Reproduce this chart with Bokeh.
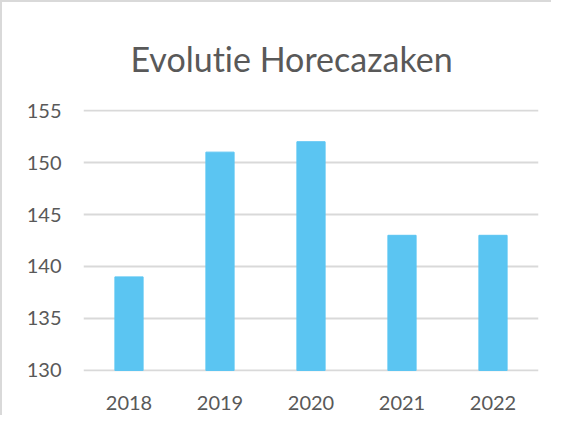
from bokeh.plotting import figure
from bokeh.models import Range1d, FixedTicker
from bokeh.embed import file_html
from bokeh.resources import INLINE

years = ["2018", "2019", "2020", "2021", "2022"]
counts = [139, 151, 152, 143, 143]
y_ticks = [130, 135, 140, 145, 150, 155]

TXT = "#595959"
GRID = "#d9d9d9"
BAR = "#5BC5F2"
FONT = "Lato"

p = figure(x_range=years, y_range=Range1d(129.9, 155.1), width=551, height=415,
           output_backend="svg", toolbar_location=None,
           title="Evolutie Horecazaken",
           min_border_left=81, min_border_right=15, min_border_top=107, min_border_bottom=46)
p.styles = {"border-top": "2px solid #d9d9d9", "border-left": "2px solid #d9d9d9",
            "font-variant-ligatures": "none"}

p.vbar(x=years, top=counts, bottom=130, width=0.31, color=BAR)

p.x_range.range_padding = 0
p.outline_line_color = None
p.title.align = "left"
p.title.text_font = FONT
p.title.text_font_style = "normal"
p.title.text_font_size = "34px"
p.title.text_color = TXT
p.title.offset = 47
p.title.standoff = 62

for ax in (p.xaxis, p.yaxis):
    ax.axis_line_color = None
    ax.major_tick_line_color = None
    ax.minor_tick_line_color = None
    ax.major_tick_out = 0
    ax.major_tick_in = 0
    ax.major_label_text_font = FONT
    ax.major_label_text_font_size = "20px"
    ax.major_label_text_color = TXT
    ax.major_label_standoff = 22
p.xaxis.major_label_standoff = 24

p.yaxis.ticker = FixedTicker(ticks=y_ticks)
p.xgrid.grid_line_color = None
p.ygrid.grid_line_color = GRID
p.ygrid.grid_line_width = 2
p.ygrid.level = "underlay"

open("out.html", "w").write(file_html(p, INLINE))
